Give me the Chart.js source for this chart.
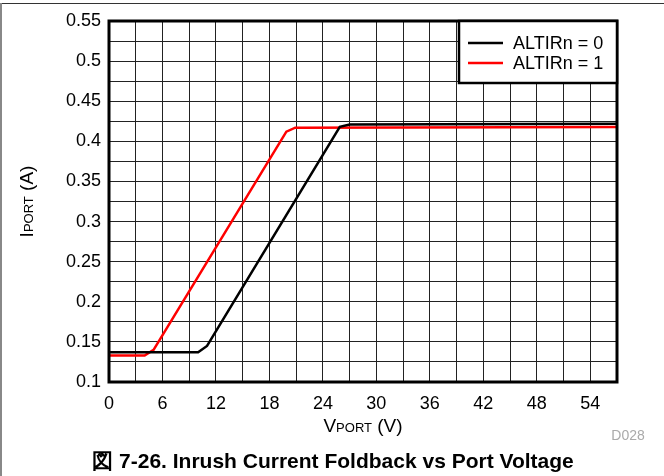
<!DOCTYPE html>
<html>
<head>
<meta charset="utf-8">
<script src="https://cdn.jsdelivr.net/npm/chart.js@4/dist/chart.umd.min.js"></script>
<style>
  html, body { margin: 0; padding: 0; background: #fff; }
  #wrap { width: 664px; height: 476px; position: relative; }
</style>
</head>
<body>
<div id="wrap"><canvas id="chart" width="664" height="476"></canvas></div>
<script>
// values
const seriesNames = ['ALTIRn = 0', 'ALTIRn = 1'];
const vBlack = [0, 10, 11, 25.9, 27, 57];
const iBlack = [0.137, 0.137, 0.145, 0.418, 0.421, 0.422];
const vRed = [0, 4, 5, 19.9, 20.9, 57];
const iRed = [0.133, 0.133, 0.14, 0.412, 0.417, 0.418];
const xTickLabels = [0, 6, 12, 18, 24, 30, 36, 42, 48, 54];
const yTickLabels = [0.1, 0.15, 0.2, 0.25, 0.3, 0.35, 0.4, 0.45, 0.5, 0.55];

const FONT = '"Liberation Sans", Arial, sans-serif';

function toPoints(xs, ys) {
    return xs.map((x, i) => ({ x: x, y: ys[i] }));
}

// draw text made of runs with different sizes (for the subscripts)
function drawRuns(ctx, parts, cx, y) {
    let total = 0;
    parts.forEach(p => { ctx.font = p[1] + 'px ' + FONT; total += ctx.measureText(p[0]).width; });
    let px = cx - total / 2;
    parts.forEach(p => {
        ctx.font = p[1] + 'px ' + FONT;
        ctx.fillText(p[0], px, y);
        px += ctx.measureText(p[0]).width;
    });
}

// draws the axis titles, plot frame, legend box, page border and caption
const decorPlugin = {
    id: 'decor',
    beforeDraw(chart) {
        const ctx = chart.ctx;
        ctx.save();
        ctx.fillStyle = '#fff';
        ctx.fillRect(0, 0, chart.width, chart.height);
        // page border (top + left)
        ctx.strokeStyle = '#333';
        ctx.lineWidth = 1;
        ctx.beginPath();
        ctx.moveTo(0, 3.5);
        ctx.lineTo(chart.width, 3.5);
        ctx.stroke();
        ctx.strokeStyle = '#888';
        ctx.lineWidth = 2;
        ctx.beginPath();
        ctx.moveTo(1, 3);
        ctx.lineTo(1, chart.height);
        ctx.stroke();
        ctx.restore();
    },
    afterDraw(chart) {
        const ctx = chart.ctx;
        const a = chart.chartArea;
        ctx.save();

        // plot frame
        ctx.strokeStyle = '#000';
        ctx.lineWidth = 3;
        ctx.strokeRect(a.left, a.top, a.right - a.left, a.bottom - a.top);

        // legend inside the top-right corner
        const bx = 459, by = a.top, bw = a.right - bx, bh = 62;
        ctx.fillStyle = '#fff';
        ctx.fillRect(bx, by, bw, bh);
        ctx.lineWidth = 2.5;
        ctx.strokeRect(bx, by, bw, bh);
        chart.data.datasets.forEach((ds, i) => {
            const ly = 43 + i * 20;
            ctx.strokeStyle = ds.borderColor;
            ctx.lineWidth = 2.5;
            ctx.beginPath();
            ctx.moveTo(468, ly);
            ctx.lineTo(503, ly);
            ctx.stroke();
            ctx.fillStyle = '#000';
            ctx.font = '18px ' + FONT;
            ctx.textBaseline = 'middle';
            ctx.textAlign = 'left';
            ctx.fillText(ds.label, 513, ly + 1);
        });

        // x axis title V_PORT (V)
        ctx.fillStyle = '#000';
        ctx.textBaseline = 'alphabetic';
        drawRuns(ctx, [['V', 19], ['PORT', 13], [' (V)', 19]], (a.left + a.right) / 2, 432);

        // y axis title I_PORT (A), rotated
        ctx.save();
        ctx.translate(33, (a.top + a.bottom) / 2);
        ctx.rotate(-Math.PI / 2);
        drawRuns(ctx, [['I', 19], ['PORT', 13], [' (A)', 19]], 0, 0);
        ctx.restore();

        // figure id
        ctx.fillStyle = '#aaa';
        ctx.font = '14px ' + FONT;
        ctx.textAlign = 'center';
        ctx.fillText('D028', 628, 440);

        // caption
        ctx.fillStyle = '#000';
        ctx.font = 'bold 21px ' + FONT;
        ctx.fillText('図 7-26. Inrush Current Foldback vs Port Voltage', 333, 468);

        ctx.restore();
    }
};

const ctx = document.getElementById('chart').getContext('2d');
new Chart(ctx, {
    type: 'line',
    data: {
        datasets: [{
            label: seriesNames[0],
            data: toPoints(vBlack, iBlack),
            borderColor: '#000',
            borderWidth: 2.5,
            pointRadius: 0,
            tension: 0
        }, {
            label: seriesNames[1],
            data: toPoints(vRed, iRed),
            borderColor: '#ff0000',
            borderWidth: 2.5,
            pointRadius: 0,
            tension: 0
        }]
    },
    options: {
        responsive: false,
        animation: false,
        layout: { padding: { left: 0, right: 47, top: 21, bottom: 0 } },
        plugins: {
            legend: { display: false },
            tooltip: { enabled: false }
        },
        scales: {
            x: {
                type: 'linear',
                min: 0,
                max: 57,
                afterFit: (scale) => { scale.height = 94; },
                border: { display: false },
                grid: { color: '#222', lineWidth: 1, drawTicks: false },
                ticks: {
                    stepSize: 3,
                    padding: 11,
                    color: '#000',
                    maxRotation: 0,
                    autoSkip: false,
                    font: { family: FONT, size: 18 },
                    callback: (v) => xTickLabels.includes(v) ? String(v) : ''
                }
            },
            y: {
                min: 0.1,
                max: 0.55,
                afterFit: (scale) => { scale.width = 109; },
                border: { display: false },
                grid: { color: '#222', lineWidth: 1, drawTicks: false },
                ticks: {
                    stepSize: 0.025,
                    padding: 8,
                    color: '#000',
                    autoSkip: false,
                    font: { family: FONT, size: 18 },
                    callback: (v) => {
                        const r = Math.round(v * 1000) / 1000;
                        return yTickLabels.includes(r) ? String(r) : '';
                    }
                }
            }
        }
    },
    plugins: [decorPlugin]
});
</script>
</body>
</html>
